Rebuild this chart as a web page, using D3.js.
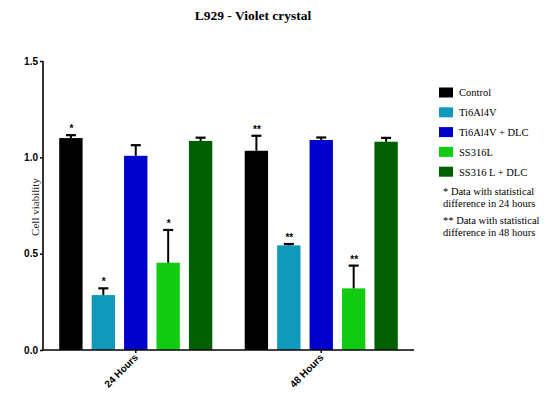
<html>
<head>
<script src="https://d3js.org/d3.v7.min.js"></script>
<style>
body { margin: 0; background: white; }
svg text { fill: black; }
</style>
</head>
<body>
<svg id="chart" width="550" height="398"></svg>
<script>
// values
var groups = ["24 Hours", "48 Hours"];
var series = ["Control", "Ti6Al4V", "Ti6Al4V + DLC", "SS316L", "SS316 L + DLC"];
var colors = ["#000000", "#1199bb", "#0000cc", "#11cc11", "#006000"];
var means24 = [1.10, 0.285, 1.008, 0.453, 1.085];
var errs24  = [0.015, 0.035, 0.055, 0.17, 0.017];
var stars24 = ["*", "*", "", "*", ""];
var means48 = [1.034, 0.543, 1.09, 0.32, 1.081];
var errs48  = [0.078, 0.007, 0.013, 0.118, 0.02];
var stars48 = ["**", "**", "", "**", ""];
var yTicks = [0, 0.5, 1.0, 1.5];
var notes = ["* Data with statistical", "difference in 24 hours",
             "** Data with statistical", "difference in 48 hours"];

var rows = [];
series.forEach(function(s, i) {
  rows.push({g: groups[0], s: s, v: means24[i], e: errs24[i], star: stars24[i], c: colors[i]});
  rows.push({g: groups[1], s: s, v: means48[i], e: errs48[i], star: stars48[i], c: colors[i]});
});

var svg = d3.select("#chart");

var x0 = d3.scaleBand().domain(groups).range([43, 414]).paddingInner(0).paddingOuter(0);
var x1 = d3.scaleBand().domain(series).range([0, x0.bandwidth()]).paddingInner(0.28).paddingOuter(0.5);
var y = d3.scaleLinear().domain([0, 1.5]).range([350, 61]);

// title
svg.append("text")
  .attr("x", 253).attr("y", 20)
  .attr("text-anchor", "middle")
  .style("font-family", "Liberation Serif, Times New Roman, serif")
  .style("font-weight", "bold").style("font-size", "13.5px")
  .text("L929 - Violet crystal");

// bars
svg.append("g").selectAll("rect")
  .data(rows).enter().append("rect")
    .attr("x", function(d) { return x0(d.g) + x1(d.s); })
    .attr("y", function(d) { return y(d.v); })
    .attr("width", x1.bandwidth())
    .attr("height", function(d) { return y(0) - y(d.v); })
    .attr("fill", function(d) { return d.c; });

// error bars (upper only)
var eb = svg.append("g").selectAll("g").data(rows).enter().append("g")
  .attr("transform", function(d) { return "translate(" + (x0(d.g) + x1(d.s) + x1.bandwidth() / 2) + ",0)"; });
eb.append("line")
  .attr("x1", 0).attr("x2", 0)
  .attr("y1", function(d) { return y(d.v); })
  .attr("y2", function(d) { return y(d.v + d.e); })
  .attr("stroke", "black").attr("stroke-width", 2);
eb.append("line")
  .attr("x1", -5).attr("x2", 5)
  .attr("y1", function(d) { return y(d.v + d.e); })
  .attr("y2", function(d) { return y(d.v + d.e); })
  .attr("stroke", "black").attr("stroke-width", 2.2);
eb.append("text")
  .attr("x", 0.5)
  .attr("y", function(d) { return y(d.v + d.e) - 3; })
  .attr("text-anchor", "middle")
  .attr("fill", "#000")
  .style("fill", "#000")
  .style("font-family", "Liberation Sans, Arial, sans-serif")
  .style("font-weight", "bold").style("font-size", "10px")
  .text(function(d) { return d.star; });

// y axis
var yAxis = svg.append("g")
  .attr("transform", "translate(43,0)")
  .call(d3.axisLeft(y).tickValues(yTicks).tickFormat(d3.format(".1f")).tickSize(3).tickPadding(2));
yAxis.select(".domain").attr("stroke-width", 1.6).attr("d", "M0,350V61");
yAxis.selectAll(".tick line").attr("stroke-width", 1.5);
yAxis.selectAll("text")
  .style("font-family", "Liberation Sans, Arial, sans-serif")
  .style("font-weight", "bold").style("font-size", "10px");

svg.append("text")
  .attr("transform", "translate(39,207) rotate(-90)")
  .attr("text-anchor", "middle")
  .style("font-family", "Liberation Serif, Times New Roman, serif")
  .style("font-size", "11px").style("fill", "#222")
  .text("Cell viability");

// x axis
var xAxis = svg.append("g")
  .attr("transform", "translate(0,350)")
  .call(d3.axisBottom(x0).tickSize(3).tickFormat(""));
xAxis.select(".domain").attr("stroke-width", 1.6).attr("d", "M43,0H414");
xAxis.selectAll(".tick line").attr("stroke-width", 1.5);

svg.append("g").selectAll("text")
  .data(groups).enter().append("text")
    .attr("transform", function(d) { return "translate(" + (x0(d) + x0.bandwidth() / 2 + 3) + ",358) rotate(-45)"; })
    .attr("text-anchor", "end")
    .style("font-family", "Liberation Sans, Arial, sans-serif")
    .style("font-weight", "bold").style("font-size", "10px")
    .text(function(d) { return d; });

// legend
var legend = svg.append("g").selectAll("g")
  .data(series).enter().append("g")
    .attr("transform", function(d, i) { return "translate(439," + (92.5 + i * 19.8) + ")"; });
legend.append("rect")
  .attr("x", 0).attr("y", -5).attr("width", 14).attr("height", 10)
  .attr("fill", function(d, i) { return colors[i]; });
legend.append("text")
  .attr("x", 20).attr("y", 3.8)
  .style("font-family", "Liberation Serif, Times New Roman, serif")
  .style("font-size", "10.5px")
  .text(function(d) { return d; });

svg.append("g").selectAll("text")
  .data(notes).enter().append("text")
    .attr("x", 443)
    .attr("y", function(d, i) { return 195 + i * 12 + (i > 1 ? 5 : 0); })
    .style("font-family", "Liberation Serif, Times New Roman, serif")
    .style("font-size", "10.5px")
    .text(function(d) { return d; });
</script>
</body>
</html>
